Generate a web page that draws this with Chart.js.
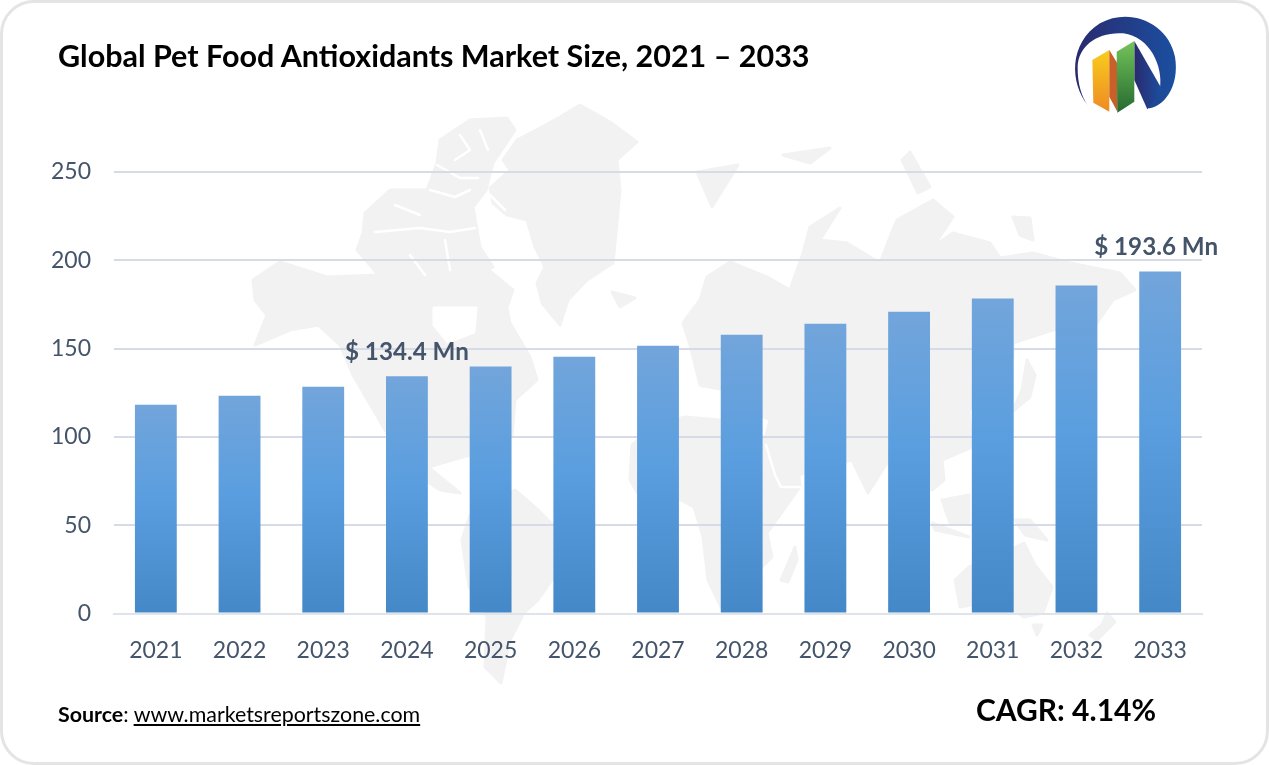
<!DOCTYPE html>
<html>
<head>
<meta charset="utf-8">
<title>Global Pet Food Antioxidants Market Size</title>
<script src="https://cdn.jsdelivr.net/npm/chart.js@4"></script>
<style>
    html, body { margin: 0; padding: 0; background: #fff; overflow: hidden; }
    #card {
        position: relative; width: 1269px; height: 765px; box-sizing: border-box;
        border: 3px solid #e4e4e4; border-radius: 34px; overflow: hidden;
        font-family: Lato, sans-serif; color: #000;
    }
    /* tudo dentro do card usa as coordenadas da pagina */
    #inner { position: absolute; left: -3px; top: -3px; width: 1269px; height: 765px; }
    #mapa, #logo, #grafico { position: absolute; left: 0; top: 0; }
    #titulo { position: absolute; left: 58px; top: 37px; font-size: 30.5px; font-weight: 700; white-space: nowrap; }
    #fonte { position: absolute; left: 58px; top: 701px; font-size: 21.4px; white-space: nowrap; }
    #fonte a { color: #000; text-decoration: underline; }
    #cagr { position: absolute; left: 976px; top: 691px; font-size: 30px; font-weight: 700; white-space: nowrap; }
    #mapa polygon { stroke: #f2f2f2; stroke-width: 3; stroke-linejoin: round; }
    #mapa polygon.agua { stroke: #fff; fill: #fff; }
    #mapa polyline { fill: none; stroke: #fff; stroke-width: 2.5; stroke-linejoin: round; stroke-linecap: round; }
</style>
</head>
<body>
<div id="card"><div id="inner">
    <svg id="mapa" width="1269" height="765" fill="#f2f2f2">
        <!-- groenlandia e ilhas do artico -->
        <polygon points="580,105 610,122 637,142 617,160 620,190 617,223 613,263 587,280 568,300 560,325 542,303 537,283 545,267 535,247 527,220 507,215 493,203 490,188 510,170 503,160 517,140 540,128 560,117"/>
        <polygon points="357,250 363,233 365,213 390,190 427,190 437,163 440,140 470,120 507,118 515,130 493,163 486,190 473,207 480,247 493,267 450,287 400,290 380,277"/>
        <polyline points="430,190 455,197 470,190"/>
        <polyline points="375,232 420,228 450,232 475,228"/>
        <polyline points="410,255 425,275"/>
        <polyline points="445,240 450,270"/>
        <polyline points="437,165 460,178 478,178"/>
        <polyline points="395,205 420,215"/>
        <polyline points="460,135 470,150 455,160"/>
        <polyline points="480,130 488,150"/>
        <polyline points="490,195 505,210"/>
        <polygon points="612,292 635,298 620,307"/>
        <polygon points="697,172 738,165 712,207"/>
        <polygon points="783,155 830,148 810,163"/>
        <polygon points="902,160 910,152 930,187 918,193"/>
        <polygon points="1013,217 1030,218 1033,240 1020,235"/>
        <!-- america do norte -->
        <polygon points="253,280 280,262 327,277 380,275 403,290 450,287 463,270 480,263 513,290 507,307 510,323 530,357 537,380 515,400 512,437 470,437 470,455 428,467 460,493 440,490 410,470 385,430 353,375 340,345 318,325 290,330 255,345 267,315 255,300"/>
        <polygon class="agua" points="434,308 476,308 474,332 448,342 434,325"/>
        <!-- america do sul -->
        <polygon points="470,515 515,490 538,510 551,523 580,545 554,577 538,600 524,613 510,640 501,683 485,667 487,617 469,587 462,540"/>
        <!-- africa -->
        <polygon points="630,480 632,445 655,425 685,417 720,420 763,437 795,437 800,487 767,533 772,557 721,607 708,580 703,537 694,507 675,497 640,497"/>
        <polygon points="795,547 781,580 788,582 797,560"/>
        <!-- eurasia -->
        <polygon points="683,323 700,300 707,277 730,262 767,277 790,290 803,253 810,227 840,208 820,240 847,243 880,263 890,237 897,220 933,200 953,217 933,247 953,233 990,243 1000,258 1033,253 1070,263 1120,273 1135,290 1113,300 1097,323 1053,330 1013,343 1013,357 1000,390 969,410 972,447 942,460 944,480 932,490 905,470 887,463 868,493 852,460 804,473 781,483 763,447 770,420 720,395 700,385 690,345"/>
        <polygon class="agua" points="704,389 730,394 743,405 717,410"/>
        <polyline points="766,445 775,475 781,487 800,487"/>
        <polygon points="1027,360 1035,375 1030,397 1012,412 1022,390"/>
        <!-- asia do sudeste e oceania -->
        <polygon points="942,500 969,495 969,523 950,523"/>
        <polygon points="932,523 969,537 935,530"/>
        <polygon points="1015,520 1030,520 1047,540 1025,535"/>
        <polygon points="955,580 969,567 1000,555 1024,543 1035,565 1052,587 1043,613 1024,617 997,600 960,607"/>
        <polygon points="1033,625 1042,625 1037,635"/>
        <polygon points="1107,613 1115,622 1097,640 1090,635 1102,625"/>
    </svg>

    <canvas id="grafico" width="1269" height="765"></canvas>

    <svg id="logo" width="1269" height="765">
        <defs>
            <linearGradient id="gradAzul" x1="0" x2="1" y1="0" y2="0">
                <stop offset="0" stop-color="#2a2a6e"/><stop offset="1" stop-color="#1b4fa0"/>
            </linearGradient>
            <linearGradient id="gradAmarelo" x1="0" x2="0" y1="0" y2="1">
                <stop offset="0" stop-color="#f8cd1c"/><stop offset="1" stop-color="#ee8a24"/>
            </linearGradient>
            <linearGradient id="gradVerde" x1="0" x2="0" y1="0" y2="1">
                <stop offset="0" stop-color="#74c45a"/><stop offset="1" stop-color="#256a30"/>
            </linearGradient>
        </defs>
        <g transform="translate(1040,0) scale(0.3333)">
            <path fill="url(#gradAzul)" d="M143,315 C90,250 85,130 180,70 C270,20 385,70 405,170 C420,260 370,325 320,325 L360,265 C370,200 330,110 250,100 C170,95 115,140 113,200 C112,250 125,290 143,315 Z"/>
            <polygon fill="url(#gradAzul)" points="283,123 366,268 322,328 283,240"/>
            <polygon fill="url(#gradAmarelo)" points="157,180 208,150 208,335 160,308"/>
            <polygon fill="#c9602a" points="208,150 232,190 232,335 208,290"/>
            <polygon fill="url(#gradVerde)" points="230,155 283,123 283,305 232,338"/>
        </g>
    </svg>

    <div id="titulo">Global Pet Food Antioxidants Market Size, 2021 – 2033</div>
    <div id="fonte"><b>Source</b>: <a>www.marketsreportszone.com</a></div>
    <div id="cagr">CAGR: 4.14%</div>
</div></div>

<script>
const anos = ['2021', '2022', '2023', '2024', '2025', '2026', '2027', '2028', '2029', '2030', '2031', '2032', '2033'];
const valores = [118.2, 123.3, 128.4, 134.4, 139.9, 145.4, 151.6, 157.9, 164.1, 170.9, 178.3, 185.7, 193.6];
const rotulos = { 3: '$ 134.4 Mn', 12: '$ 193.6 Mn' };
const ticksY = [0, 50, 100, 150, 200, 250];

const corTexto = '#44546a';
const corGrade = '#d6dbe7';

// cada barra tem seu proprio gradiente, do topo ate a base
function corDaBarra(context) {
    const { chart, parsed } = context;
    if (!parsed || !chart.chartArea) return '#5a9bdc';
    const yScale = chart.scales.y;
    const gradiente = chart.ctx.createLinearGradient(0, yScale.getPixelForValue(parsed.y), 0, yScale.getPixelForValue(0));
    gradiente.addColorStop(0, '#72a5db');
    gradiente.addColorStop(0.45, '#5a9edf');
    gradiente.addColorStop(1, '#4488c8');
    return gradiente;
}

// escreve os valores em destaque em cima das barras
const pluginRotulos = {
    id: 'rotulos',
    afterDatasetsDraw(chart) {
        const { ctx, scales } = chart;
        ctx.save();
        ctx.font = '700 24.2px Lato, sans-serif';
        ctx.fillStyle = corTexto;
        ctx.textAlign = 'center';
        ctx.textBaseline = 'middle';
        Object.keys(rotulos).forEach(i => {
            const x = scales.x.getPixelForValue(Number(i));
            const y = scales.y.getPixelForValue(valores[i]);
            const ajuste = i == 12 ? -4 : 0;
            ctx.fillText(rotulos[i], x + ajuste, y - 24);
        });
        ctx.restore();
    }
};

new Chart(document.getElementById('grafico').getContext('2d'), {
    type: 'bar',
    data: {
        labels: anos,
        datasets: [{
            data: valores,
            backgroundColor: corDaBarra,
            categoryPercentage: 1,
            barPercentage: 0.5,
            borderWidth: 0
        }]
    },
    plugins: [pluginRotulos],
    options: {
        responsive: false,
        animation: false,
        layout: { padding: { left: 0, right: 67, top: 172, bottom: 0 } },
        plugins: { legend: { display: false }, tooltip: { enabled: false } },
        scales: {
            x: {
                afterFit(scale) { scale.height = 151.5; },
                grid: { display: false },
                border: { color: '#dfe3ea', width: 2 },
                ticks: { color: corTexto, font: { family: 'Lato', size: 23 }, padding: 15, maxRotation: 0 }
            },
            y: {
                min: 0,
                max: 250,
                afterFit(scale) { scale.width = 114; },
                afterBuildTicks(scale) { scale.ticks = ticksY.map(v => ({ value: v })); },
                grid: { color: corGrade, lineWidth: 2, drawTicks: false },
                border: { display: false },
                ticks: { color: corTexto, font: { family: 'Lato', size: 23 }, padding: 23 }
            }
        }
    }
});
</script>
</body>
</html>
